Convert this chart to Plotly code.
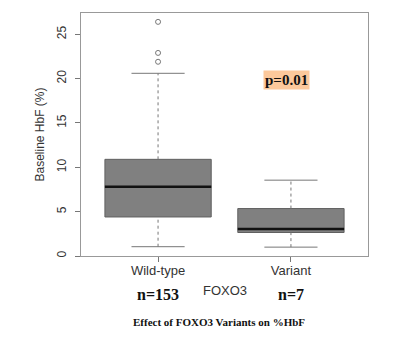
import plotly.graph_objects as go

categories = ["Wild-type", "Variant"]
positions = [1, 2]
q1 = [4.4, 2.65]
median = [7.8, 3.05]
q3 = [10.9, 5.35]
lower_whisker = [1.05, 1.0]
upper_whisker = [20.6, 8.55]
outlier_x = [1, 1, 1]
outlier_y = [26.4, 22.9, 21.9]
counts = ["n=153", "n=7"]
p_text = "p=0.01"

BOX_W = 0.8
CAP_HALF = 0.2
fig = go.Figure()

for i, pos in enumerate(positions):
    # dashed whiskers
    fig.add_trace(go.Scatter(x=[pos, pos], y=[q3[i], upper_whisker[i]], mode="lines",
                             line=dict(color="#777777", width=1, dash="dot"), hoverinfo="skip"))
    fig.add_trace(go.Scatter(x=[pos, pos], y=[lower_whisker[i], q1[i]], mode="lines",
                             line=dict(color="#777777", width=1, dash="dot"), hoverinfo="skip"))
    # caps
    for v in (upper_whisker[i], lower_whisker[i]):
        fig.add_trace(go.Scatter(x=[pos - CAP_HALF, pos + CAP_HALF], y=[v, v], mode="lines",
                                 line=dict(color="#777777", width=1), hoverinfo="skip"))
    # box
    fig.add_trace(go.Box(x=[pos], q1=[q1[i]], median=[median[i]], q3=[q3[i]],
                         lowerfence=[q1[i]], upperfence=[q3[i]], width=BOX_W,
                         fillcolor="#808080", line=dict(color="#606060", width=1),
                         whiskerwidth=0, hoverinfo="skip"))
    # median line
    fig.add_trace(go.Scatter(x=[pos - BOX_W / 2, pos + BOX_W / 2], y=[median[i], median[i]],
                             mode="lines", line=dict(color="#111111", width=2.5), hoverinfo="skip"))

fig.add_trace(go.Scatter(x=outlier_x, y=outlier_y, mode="markers",
                         marker=dict(symbol="circle-open", size=5, color="#777777",
                                     line=dict(width=1)), hoverinfo="skip"))

annotations = []
for pos, c in zip(positions, counts):
    annotations.append(dict(x=pos, y=-0.16, xref="x", yref="paper", text="<b>" + c + "</b>",
                            showarrow=False,
                            font=dict(family="Liberation Serif", size=16, color="#111111"),
                            xanchor="center", yanchor="middle"))
annotations.append(dict(x=0.5, y=-0.143, xref="paper", yref="paper", text="FOXO3", showarrow=False,
                        font=dict(family="Liberation Sans", size=13, color="#333333"),
                        xanchor="center", yanchor="middle"))
annotations.append(dict(x=0.48, y=-0.27, xref="paper", yref="paper",
                        text="<b>Effect of FOXO3 Variants on %HbF</b>", showarrow=False,
                        font=dict(family="Liberation Serif", size=11, color="#111111"),
                        xanchor="center", yanchor="middle"))
annotations.append(dict(x=1.966, y=19.9, xref="x", yref="y", text="<b>" + p_text + "</b>",
                        showarrow=False, bgcolor="#FCC89B", borderpad=1,
                        font=dict(family="Liberation Serif", size=15, color="#111111"),
                        xanchor="center", yanchor="middle"))

fig.update_layout(
    width=392, height=334,
    margin=dict(l=73, r=32, t=5, b=86),
    paper_bgcolor="white", plot_bgcolor="white",
    showlegend=False,
    annotations=annotations,
    font=dict(family="Liberation Sans", color="#333333"),
)
fig.update_xaxes(range=[0.42, 2.58], tickvals=positions, ticktext=categories, automargin=False,
                 showgrid=False, zeroline=False, showline=True, linecolor="#999999", linewidth=1,
                 mirror=True, ticks="outside", ticklen=5, tickcolor="#777777",
                 ticklabelstandoff=-3,
                 tickfont=dict(family="Liberation Sans", size=13, color="#333333"))
fig.update_yaxes(range=[0, 27.4], tickvals=[0, 5, 10, 15, 20, 25], tickangle=-90, automargin=False,
                 showgrid=False, zeroline=False, showline=True, linecolor="#999999", linewidth=1,
                 mirror=True, ticks="outside", ticklen=5, tickcolor="#777777",
                 ticklabelstandoff=4,
                 tickfont=dict(family="Liberation Sans", size=12, color="#333333"),
                 title=dict(text="Baseline HbF (%)", standoff=8,
                            font=dict(family="Liberation Sans", size=12, color="#333333")))

fig.write_html("out.html")
